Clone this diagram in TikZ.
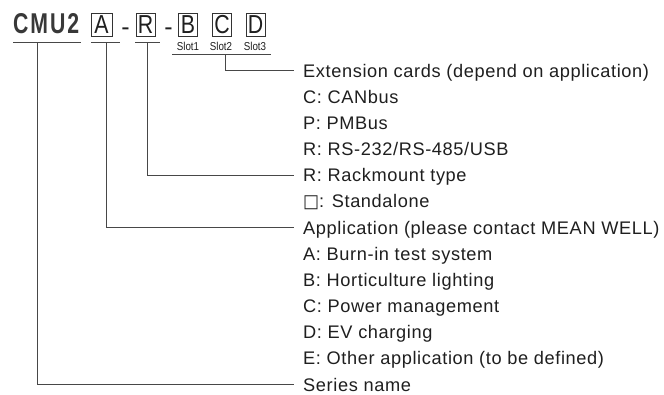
\documentclass[tikz,border=0pt]{standalone}
\usepackage{fontspec}
\setmainfont{Liberation Sans}
\newfontfamily\listfont{Liberation Sans}[LetterSpace=3.4]
\newfontfamily\headfont{Liberation Sans}[LetterSpace=9]
\newfontfamily\symfont{DejaVu Sans}
\usetikzlibrary{calc}
\begin{document}
\begin{tikzpicture}[x=1pt,y=-1pt,
  lbl/.style={anchor=base west, inner sep=0pt, text height=13pt, text depth=0pt,
    font=\listfont\fontsize{18.2}{20}\selectfont, text=black!88},
  conn/.style={draw=black!72, line width=0.9pt},
  code/.style={draw=black!80, line width=0.8pt, minimum width=19pt, minimum height=23pt,
    inner sep=0pt, text height=18.5pt, text depth=0pt,
    font=\fontsize{26}{26}\selectfont, text=black!88},
  hy/.style={anchor=base, inner sep=0pt, font=\fontsize{25}{25}\selectfont, text=black!88},
  slot/.style={anchor=base, inner sep=0pt, font=\fontsize{11.5}{11.5}\selectfont, text=black!88},
  uline/.style={draw=black!72, line width=0.9pt}]
\useasboundingbox[fill=white] (0,0) rectangle (664,394);

% header
\node[anchor=base west, inner sep=0pt, text=black!78] (cmu) at (13,33)
  {\resizebox{64pt}{20pt}{\headfont\bfseries CMU2\kern-0.09em}};
\node[code, minimum width=21pt] (bA) at (101.5,24.5) {\scalebox{0.82}[1]{A}};
\node[hy] (h1) at (125.5,35) {-};
\node[code] (bR) at (145.5,24.5) {\scalebox{0.82}[1]{R}};
\node[hy] (h2) at (168.5,35) {-};
\node[code] (bB) at (188,24.5) {\scalebox{0.82}[1]{B}};
\node[code] (bC) at (222,24.5) {\scalebox{0.82}[1]{C}};
\node[code] (bD) at (255.5,24.5) {\scalebox{0.82}[1]{D}};
\node[slot] (s1) at (188,50) {\scalebox{0.85}[1]{Slot1}};
\node[slot] (s2) at (221,50) {\scalebox{0.85}[1]{Slot2}};
\node[slot] (s3) at (255,50) {\scalebox{0.85}[1]{Slot3}};

% underlines
\coordinate (cmuL) at (13,42);  \coordinate (cmuR) at (81,42);  \coordinate (cmuV) at (37,42);
\coordinate (aL) at (91,42);    \coordinate (aR) at (120,42);   \coordinate (aV) at (106,42);
\coordinate (rL) at (135,42);   \coordinate (rR) at (160,42);   \coordinate (rV) at (147,42);
\coordinate (sL) at (172,54);   \coordinate (sR) at (271,54);   \coordinate (sV) at (225,54);
\draw[uline] (cmuL) -- (cmuR);
\draw[uline] (aL) -- (aR);
\draw[uline] (rL) -- (rR);
\draw[uline] (sL) -- (sR);

% list
\def\gap{26.17}
\node[lbl] (ext)  at (303,77) {Extension cards (depend on application)};
\node[lbl] (can)  at (303,77+1*\gap) {C: CANbus};
\node[lbl] (pmb)  at (303,77+2*\gap) {P: PMBus};
\node[lbl] (rs)   at (303,77+3*\gap) {R: RS-232/RS-485/USB};
\node[lbl] (rack) at (303,77+4*\gap) {R: Rackmount type};
\node[lbl] (stand) at (303,77+5*\gap) {\resizebox*{16pt}{14pt}{\symfont □}: Standalone};
\node[lbl] (app)  at (303,77+6*\gap) {Application (please contact MEAN WELL)};
\node[lbl] (appa) at (303,77+7*\gap) {A: Burn-in test system};
\node[lbl] (appb) at (303,77+8*\gap) {B: Horticulture lighting};
\node[lbl] (appc) at (303,77+9*\gap) {C: Power management};
\node[lbl] (appd) at (303,77+10*\gap) {D: EV charging};
\node[lbl] (appe) at (303,77+11*\gap) {E: Other application (to be defined)};
\node[lbl] (ser)  at (303,77+12*\gap) {Series name};

% connectors
\draw[conn] (sV) |- ([xshift=-9pt]ext.west);
\draw[conn] (rV) |- ([xshift=-9pt]rack.west);
\draw[conn] (aV) |- ([xshift=-9pt]app.west);
\draw[conn] (cmuV) |- ([xshift=-9pt]ser.west);
\end{tikzpicture}
\end{document}
